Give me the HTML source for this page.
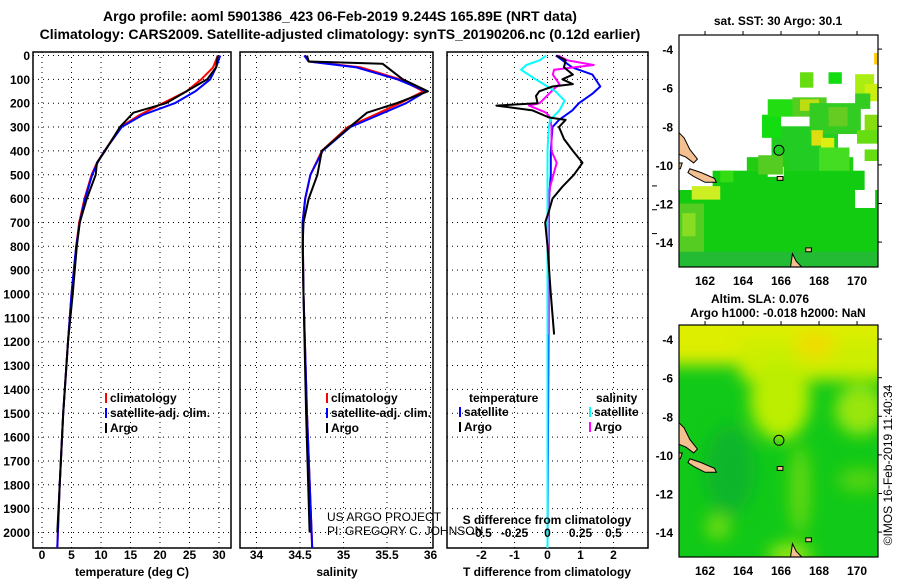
<!DOCTYPE html>
<html><head><meta charset="utf-8"><style>
body{margin:0;background:#fff}
svg text{font-family:"Liberation Sans",sans-serif;font-weight:bold;fill:#000}
</style></head><body>
<svg id="c" width="900" height="580" xmlns="http://www.w3.org/2000/svg">
<defs>
<filter id="blur" x="-50%" y="-50%" width="200%" height="200%"><feGaussianBlur stdDeviation="8"/></filter>
<clipPath id="clipTop"><rect x="679" y="35" width="199" height="232"/></clipPath>
<clipPath id="clipBot"><rect x="679" y="325" width="199" height="232"/></clipPath>
</defs>
<text x="340" y="21" font-size="14" text-anchor="middle">Argo profile: aoml 5901386_423 06-Feb-2019 9.244S 165.89E (NRT data)</text>
<text x="340" y="39" font-size="14" text-anchor="middle">Climatology: CARS2009. Satellite-adjusted climatology: synTS_20190206.nc (0.12d earlier)</text>
<g id="panels"></g>
<g id="maps"></g>
<text transform="translate(892,465) rotate(-90)" font-size="12" text-anchor="middle" style="font-weight:normal">©IMOS 16-Feb-2019 11:40:34</text>
</svg>
<script>
// ---------- data ----------
const depthTicks=[0,100,200,300,400,500,600,700,800,900,1000,1100,1200,1300,1400,1500,1600,1700,1800,1900,2000];
const tempTicks=[0,5,10,15,20,25,30];
const salTicks=[34,34.5,35,35.5,36];
const dtTicks=[-2,-1,0,1,2];
const dsTicks=[-0.5,-0.25,0,0.25,0.5];
const tClimD=[0,50,100,150,200,250,300,400,450,500,600,700,800,1000,1200,1500,1800,2065];
const tClimV=[29.8,29,27,24.5,20.5,16.5,13.3,10.6,9.3,8.4,7.2,6.3,5.8,5,4.4,3.6,3,2.6];
const tSatV=[30.2,29.5,28.5,26,22.5,17,13.5,10.6,9.4,8.5,7.3,6.4,5.8,5,4.4,3.6,3,2.6];
const tArgoD=[0,50,100,150,200,240,300,400,450,500,600,700,800,1000,1200,1500,1800,2000];
const tArgoV=[29.8,29.5,28,24.5,21,15.5,13.2,10.7,9.3,9.1,7.6,6.4,5.9,5.2,4.4,3.6,3,2.6];
const sClimD=[0,25,50,100,150,200,250,300,400,500,600,700,1000,1500,2065];
const sClimV=[34.55,34.6,35.2,35.65,35.92,35.65,35.35,35.05,34.75,34.62,34.56,34.53,34.54,34.58,34.64];
const sSatV=[34.55,34.6,35.15,35.62,35.95,35.72,35.4,35.08,34.76,34.62,34.56,34.53,34.54,34.58,34.64];
const sArgoD=[0,25,35,100,150,200,240,300,400,500,600,700,800,1000,1500,2000];
const sArgoV=[34.58,34.6,35.45,35.68,35.97,35.61,35.27,35.07,34.75,34.7,34.6,34.54,34.53,34.54,34.57,34.61];
const dTArgoD=[0,20,50,80,100,120,130,150,170,200,210,230,260,270,300,350,400,450,500,550,600,650,700,800,1000,1170];
const dTArgoV=[0.27,0.55,0.5,0.77,0.45,0.77,0.15,-0.25,-0.35,-0.3,-1.55,-0.45,0.05,0.55,0.35,0.5,0.77,1.06,0.8,0.45,0.15,0.05,-0.07,0,0.1,0.2];
const dTSatD=[0,50,80,130,160,200,230,270,300,400,500,600,2065];
const dTSatV=[0.25,0.75,1.36,1.6,1.36,0.95,0.75,0.35,0.15,0.1,0.1,0.05,0];
const dSArgoD=[0,20,40,60,80,120,150,200,210,240,260,300,400,450,550,600,1000,1170];
const dSArgoV=[0.08,0.15,0.35,0.05,0.04,0.09,0.03,-0.06,-0.14,-0.01,0.02,0.03,0.03,0.07,0.02,0.01,0.01,0.01];
const dSSatD=[0,20,40,60,100,130,150,190,230,270,300,400,2065];
const dSSatV=[-0.01,-0.06,-0.16,-0.2,-0.09,0,0.06,0.13,0.09,0.02,0.01,0,0];

// ---------- helpers ----------
const NS="http://www.w3.org/2000/svg";
const P=document.getElementById('panels');
function mk(tag,attrs,parent){const e=document.createElementNS(NS,tag);for(const k in attrs)e.setAttribute(k,attrs[k]);(parent||P).appendChild(e);return e;}
const yTop=52,yBot=548;
function yD(d){return 55.5+d*0.2385;}
function xT(t){return 42+t*5.9;}
function xS(s){return 300+(s-34.5)*87;}
function xDT(v){return 547.5+v*33;}
function xDS(v){return 547.5+v*132;}

function panel(name,x0,x1){
  const r=mk('rect',{x:x0,y:yTop,width:x1-x0,height:yBot-yTop,fill:'none',stroke:'#000','stroke-width':1.5});
  
  
  depthTicks.forEach(d=>{const l=mk('line',{x1:x0,x2:x1,y1:yD(d),y2:yD(d),stroke:'#000','stroke-width':1,'stroke-dasharray':'1,4'});
    
    });
}
function vgrid(name,xs){xs.forEach(x=>{const l=mk('line',{x1:x,x2:x,y1:yTop,y2:yBot,stroke:'#000','stroke-width':1,'stroke-dasharray':'1,4'});
  
  });}
function line(name,D,V,fx,color,w){
  const pts=D.map((d,i)=>fx(V[i]).toFixed(1)+','+yD(d).toFixed(1)).join(' ');
  const e=mk('polyline',{points:pts,fill:'none',stroke:color,'stroke-width':w||2,'stroke-linejoin':'round'});
  
  
  return e;
}
function txt(name,x,y,s,size,anchor){const e=mk('text',{x:x,y:y,'font-size':size||12,'text-anchor':anchor||'start'});e.textContent=s;
  
  
  return e;}

// temperature panel
panel('temperature-panel',33,231);
vgrid('temperature',tempTicks.map(xT));
depthTicks.forEach(d=>txt('depth-tick-label',30,yD(d)+4.5,String(d),12,'end'));
tempTicks.forEach(t=>txt('temperature-tick-label',xT(t),559,String(t),12,'middle'));
txt('temperature-axis-title',132,576,'temperature (deg C)',12,'middle');
line('temperature-climatology',tClimD,tClimV,xT,'#f00',2);
line('temperature-satellite',tClimD,tSatV,xT,'#00f',2);
line('temperature-argo',tArgoD,tArgoV,xT,'#000',2);

// salinity panel
panel('salinity-panel',240,433);
vgrid('salinity',salTicks.map(xS));
salTicks.forEach(s=>txt('salinity-tick-label',xS(s),559,String(s),12,'middle'));
txt('salinity-axis-title',337,576,'salinity',12,'middle');
line('salinity-climatology',sClimD,sClimV,xS,'#f00',2);
line('salinity-satellite',sClimD,sSatV,xS,'#00f',2);
line('salinity-argo',sArgoD,sArgoV,xS,'#000',2);

// legends
function legend(prefix,x,y,items){items.forEach((it,i)=>{
  const l=mk('line',{x1:x,x2:x,y1:y+i*15-9,y2:y+i*15+1,stroke:it[1],'stroke-width':2});
  
  
  txt(prefix+'-legend-entry',x+4,y+i*15,it[0],12);});}
legend('temperature',106,402,[['climatology','#f00'],['satellite-adj. clim.','#00f'],['Argo','#000']]);
legend('salinity',327,402,[['climatology','#f00'],['satellite-adj. clim.','#00f'],['Argo','#000']]);

// difference panel
panel('difference-panel',447,648);
vgrid('difference',dtTicks.map(xDT));
dtTicks.forEach(t=>txt('t-diff-tick-label',xDT(t),559,String(t),12,'middle'));
txt('t-diff-axis-title',547,576,'T difference from climatology',12,'middle');
line('t-diff-satellite',dTSatD,dTSatV,xDT,'#00f',2);
line('s-diff-argo',dSArgoD,dSArgoV,xDS,'#f0f',2);
line('s-diff-satellite',dSSatD,dSSatV,xDS,'#0ff',2);
line('t-diff-argo',dTArgoD,dTArgoV,xDT,'#000',2);
txt('s-diff-axis-title',547,524,'S difference from climatology',12,'middle');
dsTicks.forEach(s=>txt('s-diff-tick-label',xDS(s),537,String(s),12,'middle'));
txt('diff-legend-temperature-title',469,402,'temperature',12);
legend('diff-temperature',460,416,[['satellite','#00f'],['Argo','#000']]);
txt('diff-legend-salinity-title',596,402,'salinity',12);
legend('diff-salinity',590,416,[['satellite','#0ff'],['Argo','#f0f']]);
[yD(400),yD(500),yD(600)].forEach(y=>{const l=mk('line',{x1:652,x2:657,y1:y+35,y2:y+35,stroke:'#000','stroke-width':1});
  
  });

// credits
const c1=txt('project-credit',327,521,'US ARGO PROJECT',12);c1.setAttribute('style','font-weight:normal');
const c2=txt('pi-credit',327,535,'PI: GREGORY C. JOHNSON',12);c2.setAttribute('style','font-weight:normal');

// ---------- maps ----------
const M=document.getElementById('maps');
const lonTicks=[162,164,166,168,170];
const latTicks=[-4,-6,-8,-10,-12,-14];
function mx(lon){return 679+(lon-160.63)*19;}
function my(lat,top){return top+(-3.27-lat)*19.3;}
function mapAxes(name,top){
  const f=mk('rect',{x:679,y:top,width:199,height:232,fill:'none',stroke:'#000','stroke-width':1.2},M);
  
  
  lonTicks.forEach(l=>{const t=mk('text',{x:mx(l),y:top+250,'font-size':12,'text-anchor':'middle'},M);t.textContent=l;
    
    
    mk('line',{x1:mx(l),x2:mx(l),y1:top,y2:top-4,stroke:'#000'},M);});
  latTicks.forEach(l=>{const t=mk('text',{x:673,y:my(l,top)+5,'font-size':12,'text-anchor':'end'},M);t.textContent=l;
    
    
    mk('line',{x1:878,x2:882,y1:my(l,top),y2:my(l,top),stroke:'#000'},M);});
}
function land(top,clip){
  const g=mk('g',{'clip-path':'url(#'+clip+')'},M);
  
  
  const polys=[[[160.5,-8.2],[160.9,-8.6],[161.2,-9.2],[161.6,-9.7],[161.4,-9.9],[161.0,-9.6],[160.5,-9.4]],
    [[160.5,-9.9],[160.8,-9.9],[160.7,-10.2],[160.5,-10.2]],
    [[161.2,-10.2],[161.8,-10.4],[162.5,-10.7],[162.6,-10.9],[162.0,-10.9],[161.4,-10.6],[161.1,-10.4]],
    [[166.6,-14.6],[166.8,-15],[167.1,-15.3],[166.5,-15.3]],[[165.8,-10.6],[166.1,-10.6],[166.1,-10.8],[165.8,-10.8]],
    [[167.3,-14.3],[167.6,-14.3],[167.6,-14.5],[167.3,-14.5]]];
  polys.forEach(p=>mk('polygon',{points:p.map(q=>mx(q[0])+','+my(q[1],top)).join(' '),fill:'#f5c08f',stroke:'#000','stroke-width':1},g));
  const c=mk('circle',{cx:mx(165.89),cy:my(-9.244,top),r:5,fill:'none',stroke:'#000','stroke-width':1},M);
  
  
}
// top map (SST)
const t1=mk('text',{x:778,y:25,'font-size':12,'text-anchor':'middle'},M);t1.textContent='sat. SST: 30 Argo: 30.1';


const g1=mk('g',{'clip-path':'url(#clipTop)'},M);


mk('rect',{x:679,y:my(-11.3,35),width:199,height:130,fill:'#11cc11'},g1);
mk('rect',{x:mx(162.4),y:my(-10.3,35),width:mx(170.4)-mx(162.4),height:25,fill:'#11cc11'},g1);
mk('rect',{x:mx(164.2),y:my(-9.6,35),width:mx(169.8)-mx(164.2),height:14,fill:'#22cc11'},g1);
mk('rect',{x:679,y:my(-12,35),width:25,height:50,fill:'#55cc22'},g1);
mk('rect',{x:679,y:my(-14.5,35),width:199,height:18,fill:'#22bb33'},g1);
mk('rect',{x:mx(165.3),y:my(-10.1,35),width:16,height:10,fill:'#fff'},g1);
mk('rect',{x:mx(169.9),y:my(-11.3,35),width:20,height:18,fill:'#fff'},g1);
const sq=[[165.5,-8.0,3.5,1.8,'#22cc22'],[165,-7.4,1,1.2,'#11dd11'],[165.3,-6.6,1.4,0.9,'#22dd11'],[166.6,-6.5,1.8,1,'#55cc22'],[167,-6.6,1,0.6,'#bbdd11'],[167.5,-6.8,2.7,1.6,'#33cc22'],[168.5,-7.0,1,1,'#66cc22'],[167.6,-8.2,0.6,0.8,'#dddd11'],[168.1,-8.6,0.7,0.5,'#ddee11'],[167,-9.1,1.2,1.2,'#22cc22'],[168,-9.1,1.6,1.2,'#44dd22'],[166.3,-9.3,1.3,1,'#22cc22'],[164.8,-9.5,1.3,1,'#55cc22'],[167,-5.2,0.7,0.8,'#66dd11'],[168.5,-5.2,0.7,0.6,'#11dd11'],[169.9,-5.3,1,1,'#aaee11'],[170.4,-5.8,0.8,0.9,'#ccee11'],[169.9,-6.3,0.8,0.8,'#33cc22'],[170.4,-7.4,0.7,0.9,'#88dd11'],[170,-8.2,1.1,0.7,'#66dd11'],[170.4,-9.2,0.7,0.6,'#66dd11'],[170.9,-4.2,0.3,0.6,'#ffcc00'],[162.8,-10.3,0.7,0.6,'#33dd11'],[161.3,-11.1,1.5,0.7,'#ccee22'],[160.8,-12.5,0.7,1.2,'#88dd22']];
sq.forEach(s=>mk('rect',{x:mx(s[0]),y:my(s[1],35),width:s[2]*19,height:s[3]*19.3,fill:s[4]},g1));
land(35,'clipTop');
mapAxes('sst-map',35);
// bottom map (SLA)
const t2=mk('text',{x:760,y:303,'font-size':12,'text-anchor':'middle'},M);t2.textContent='Altim. SLA: 0.076';


const t3=mk('text',{x:778,y:317,'font-size':12,'text-anchor':'middle'},M);t3.textContent='Argo h1000: -0.018 h2000: NaN';


const g2=mk('g',{'clip-path':'url(#clipBot)'},M);


mk('rect',{x:679,y:325,width:199,height:232,fill:'#11c918'},g2);
const gb=mk('g',{filter:'url(#blur)'},g2);
mk('rect',{x:660,y:300,width:240,height:65,fill:'#ddee00'},gb);
mk('rect',{x:740,y:340,width:150,height:40,fill:'#ccee00'},gb);
mk('ellipse',{cx:780,cy:400,rx:30,ry:40,fill:'#bbee00'},gb);
mk('ellipse',{cx:860,cy:410,rx:25,ry:25,fill:'#99e611'},gb);
mk('ellipse',{cx:730,cy:470,rx:25,ry:45,fill:'#0fb52a'},gb);
mk('ellipse',{cx:800,cy:490,rx:10,ry:45,fill:'#66d811'},gb);
mk('ellipse',{cx:718,cy:527,rx:12,ry:12,fill:'#77dd11'},gb);
mk('ellipse',{cx:790,cy:555,rx:22,ry:12,fill:'#99e611'},gb);
mk('ellipse',{cx:860,cy:480,rx:22,ry:12,fill:'#55d411'},gb);
mk('ellipse',{cx:815,cy:345,rx:20,ry:15,fill:'#eedd00'},gb);
land(325,'clipBot');
mapAxes('sla-map',325);
</script>
</body></html>
